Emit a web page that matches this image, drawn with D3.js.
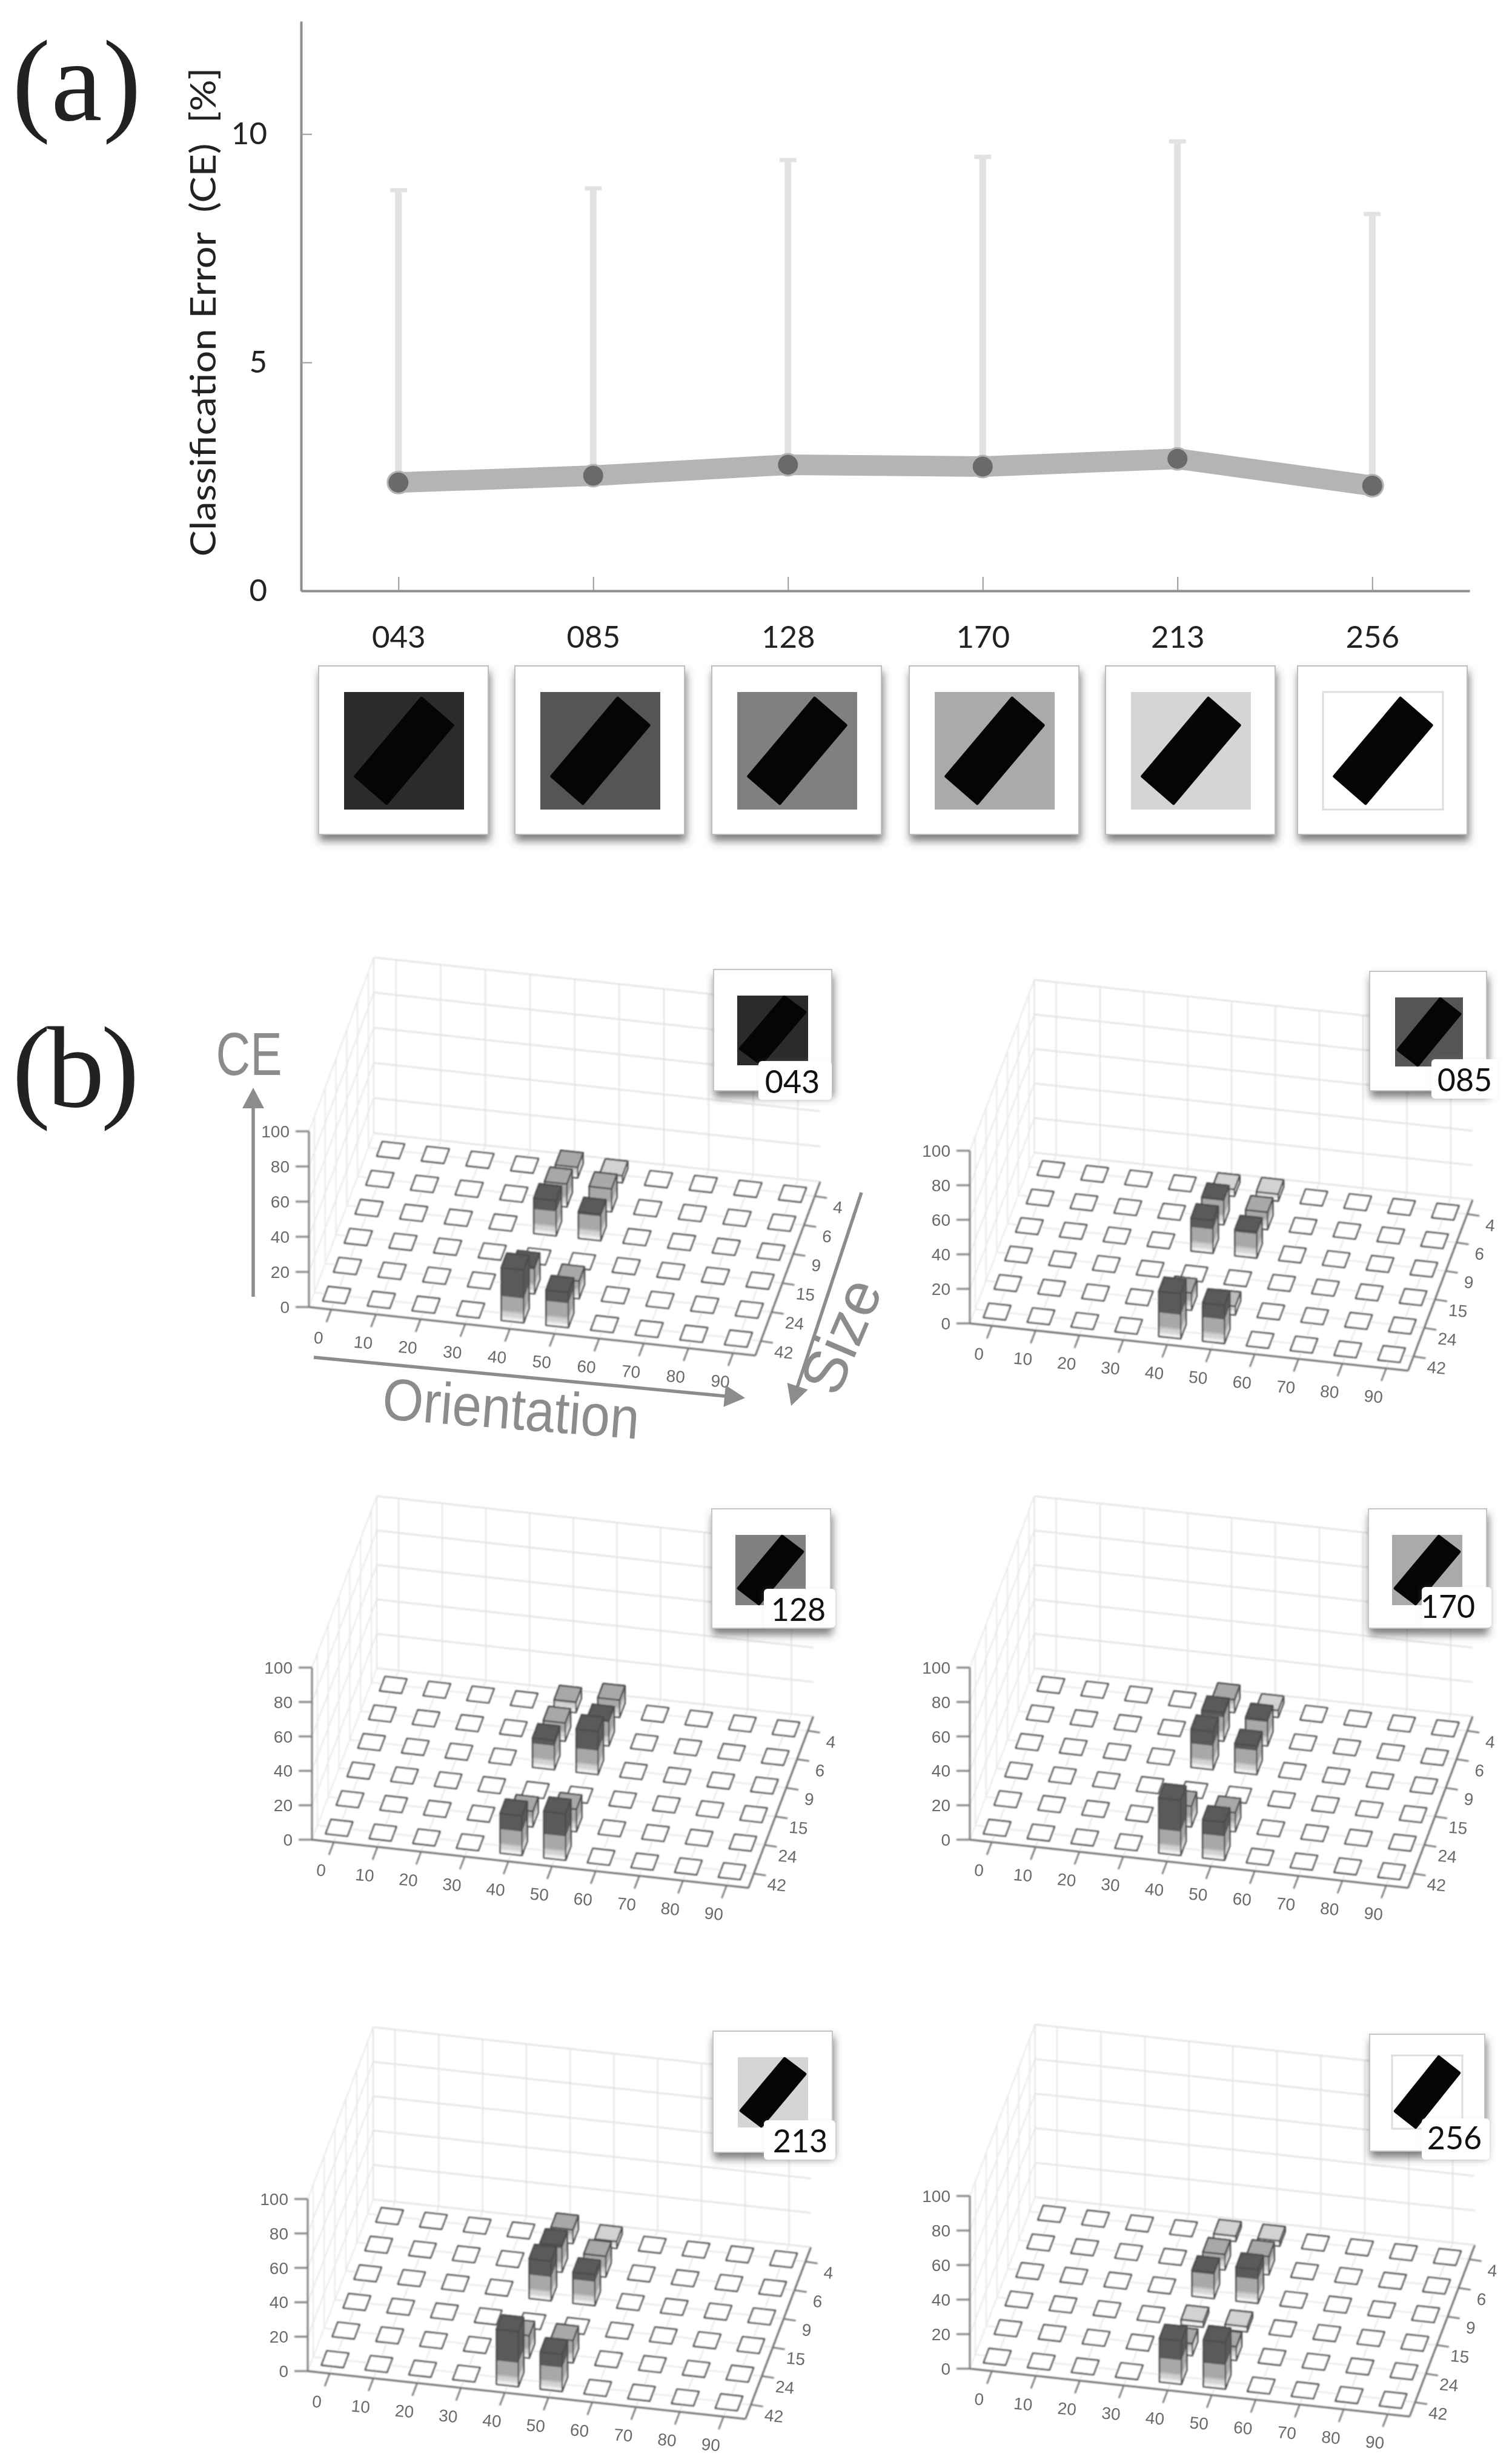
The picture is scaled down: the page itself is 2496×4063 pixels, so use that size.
<!DOCTYPE html>
<html>
<head>
<meta charset="utf-8">
<script src="https://cdn.jsdelivr.net/npm/d3@7"></script>
<style>
  html, body { margin: 0; background: #fff; }
  svg { display: block; }
  text { font-family: "Lato", sans-serif; opacity: 0.995; }
</style>
</head>
<body>
<script>
"use strict";

const W = 2496;
const H = 4063;

// (a) line chart
const levels = ["043", "085", "128", "170", "213", "256"];
const ceMean = [2.37, 2.52, 2.76, 2.72, 2.89, 2.3];
const ceUpper = [8.77, 8.81, 9.43, 9.5, 9.84, 8.25];
const yTicks = [0, 5, 10];

// (b) bar grids, rows run from size 4 (back) to size 42 (front)
const orientations = [0, 10, 20, 30, 40, 50, 60, 70, 80, 90];
const sizes = [4, 6, 9, 15, 24, 42];
const ceTicks = [0, 20, 40, 60, 80, 100];

const ce043 = [
  [0, 0, 0, 0, 6, 4, 0, 0, 0, 0],
  [0, 0, 0, 0, 13, 13, 0, 0, 0, 0],
  [0, 0, 0, 0, 20, 15, 0, 0, 0, 0],
  [0, 0, 0, 0, 0, 0, 0, 0, 0, 0],
  [0, 0, 0, 0, 15, 10, 0, 0, 0, 0],
  [0, 0, 0, 0, 30, 20, 0, 0, 0, 0],
];
const ce085 = [
  [0, 0, 0, 0, 4, 4, 0, 0, 0, 0],
  [0, 0, 0, 0, 14.5, 10, 0, 0, 0, 0],
  [0, 0, 0, 0, 19, 15, 0, 0, 0, 0],
  [0, 0, 0, 0, 0, 0, 0, 0, 0, 0],
  [0, 0, 0, 0, 10, 5, 0, 0, 0, 0],
  [0, 0, 0, 0, 26, 22, 0, 0, 0, 0],
];
const ce128 = [
  [0, 0, 0, 0, 6, 10, 0, 0, 0, 0],
  [0, 0, 0, 0, 10.5, 14.5, 0, 0, 0, 0],
  [0, 0, 0, 0, 17, 25, 0, 0, 0, 0],
  [0, 0, 0, 0, 0, 0, 0, 0, 0, 0],
  [0, 0, 0, 0, 9, 13, 0, 0, 0, 0],
  [0, 0, 0, 0, 23, 27, 0, 0, 0, 0],
];
const ce170 = [
  [0, 0, 0, 0, 7.5, 4, 0, 0, 0, 0],
  [0, 0, 0, 0, 16.5, 15, 0, 0, 0, 0],
  [0, 0, 0, 0, 22, 16.5, 0, 0, 0, 0],
  [0, 0, 0, 0, 0, 0, 0, 0, 0, 0],
  [0, 0, 0, 0, 12, 11, 0, 0, 0, 0],
  [0, 0, 0, 0, 32, 22, 0, 0, 0, 0],
];
const ce213 = [
  [0, 0, 0, 0, 8, 4, 0, 0, 0, 0],
  [0, 0, 0, 0, 15.5, 12, 0, 0, 0, 0],
  [0, 0, 0, 0, 23, 18, 0, 0, 0, 0],
  [0, 0, 0, 0, 0, 0, 0, 0, 0, 0],
  [0, 0, 0, 0, 13, 13, 0, 0, 0, 0],
  [0, 0, 0, 0, 32, 21.5, 0, 0, 0, 0],
];
const ce256 = [
  [0, 0, 0, 0, 3, 3, 0, 0, 0, 0],
  [0, 0, 0, 0, 9, 10.5, 0, 0, 0, 0],
  [0, 0, 0, 0, 15, 19.5, 0, 0, 0, 0],
  [0, 0, 0, 0, 3, 3, 0, 0, 0, 0],
  [0, 0, 0, 0, 7, 8, 0, 0, 0, 0],
  [0, 0, 0, 0, 25, 27, 0, 0, 0, 0],
];

// where each 3d box sits on the page: origin, orientation edge, size edge, height of 100
const panels = [
  { level: "043", grid: ce043, o: [510, 2157], ex: [737, 80], ey: [107, -287], h: 290,
    card: [1178, 1600, 195, 200], inner: [1217, 1643, 117, 115], tag: [1252, 1751, 121, 64], label: [1308, 1785] },
  { level: "085", grid: ce085, o: [1601, 2184], ex: [723.5, 78], ey: [106.5, -282], h: 285,
    card: [2261, 1603, 193, 197], inner: [2303, 1646, 112, 114], tag: [2363, 1748, 109, 65], label: [2418, 1782] },
  { level: "128", grid: ce128, o: [515, 3036], ex: [720.5, 79.6], ey: [107, -283], h: 284,
    card: [1175, 2490, 196, 197], inner: [1214, 2533, 116, 116], tag: [1261, 2622, 118, 64], label: [1318, 2656] },
  { level: "170", grid: ce170, o: [1601, 3036], ex: [723.5, 79.6], ey: [106.5, -283], h: 284,
    card: [2259, 2490, 195, 197], inner: [2298, 2533, 116, 116], tag: [2347, 2619, 115, 67], label: [2390, 2651] },
  { level: "213", grid: ce213, o: [508, 3913], ex: [722.6, 79], ey: [108, -283.4], h: 284,
    card: [1177, 3352, 197, 200], inner: [1218, 3395, 116, 116], tag: [1261, 3499, 118, 65], label: [1321, 3533] },
  { level: "256", grid: ce256, o: [1601, 3909], ex: [726, 79], ey: [107.6, -283], h: 285,
    card: [2261, 3357, 190, 193], inner: [2298, 3392, 116, 121], tag: [2347, 3496, 112, 68], label: [2401, 3528] },
];

const cardsA = [526, 850, 1175, 1501, 1825, 2142];

const svg = d3.select("body").append("svg").attr("width", W).attr("height", H);

const defs = svg.append("defs");
defs.append("filter").attr("id", "soft").append("feGaussianBlur").attr("stdDeviation", 0.9);
const shadow = defs.append("filter").attr("id", "shadow")
  .attr("x", "-15%").attr("y", "-15%").attr("width", "130%").attr("height", "135%");
shadow.append("feDropShadow").attr("dx", 2).attr("dy", 10).attr("stdDeviation", 7)
  .attr("flood-color", "#444").attr("flood-opacity", 0.7);
const tagShadow = defs.append("filter").attr("id", "tagShadow")
  .attr("x", "-15%").attr("y", "-15%").attr("width", "130%").attr("height", "130%");
tagShadow.append("feDropShadow").attr("dx", 0).attr("dy", 1).attr("stdDeviation", 4)
  .attr("flood-color", "#ccc").attr("flood-opacity", 0.25);

// panel letters
function panelLetter(txt, x, y, len) {
  svg.append("text").attr("x", x).attr("y", y)
    .attr("textLength", len).attr("lengthAdjust", "spacing")
    .style("font-family", '"Liberation Serif", serif')
    .style("font-size", "190px").attr("fill", "#222").text(txt);
}
panelLetter("(a)", 20, 198, 213);
panelLetter("(b)", 20, 1826, 210);

/* ---------- (a) ---------- */
const xA = d3.scalePoint().domain(levels).range([497, 2426]).padding(0.5);
const yA = d3.scaleLinear().domain([0, 12.47]).range([975, 35]);

const axisY = svg.append("g").attr("transform", "translate(497,0)")
  .call(d3.axisLeft(yA).tickValues(yTicks).tickSize(-18).tickSizeOuter(0).tickPadding(56));
const axisX = svg.append("g").attr("transform", "translate(0,975)")
  .call(d3.axisBottom(xA).tickSize(-23).tickSizeOuter(0).tickPadding(58));
[axisY, axisX].forEach((g) => {
  g.select(".domain").attr("stroke", "#8e8e8e").attr("stroke-width", 4);
  g.selectAll(".tick line").attr("stroke", "#999").attr("stroke-width", 2);
  g.selectAll("text").style("font-size", "51px").style("font-family", '"Lato", sans-serif').attr("fill", "#222");
});

svg.append("text")
  .attr("transform", "translate(356,515) rotate(-90)")
  .attr("text-anchor", "middle")
  .attr("textLength", 807).attr("lengthAdjust", "spacingAndGlyphs")
  .style("font-size", "58px").style("white-space", "pre").attr("fill", "#222")
  .text("Classification Error  (CE)  [%]");

const errs = svg.append("g").attr("stroke", "#e2e2e2");
errs.selectAll("line.stem").data(levels).join("line").attr("class", "stem")
  .attr("x1", (d) => xA(d)).attr("x2", (d) => xA(d))
  .attr("y1", (d, i) => yA(ceMean[i])).attr("y2", (d, i) => yA(ceUpper[i]))
  .attr("stroke-width", 11);
errs.selectAll("line.cap").data(levels).join("line").attr("class", "cap")
  .attr("x1", (d) => xA(d) - 14).attr("x2", (d) => xA(d) + 14)
  .attr("y1", (d, i) => yA(ceUpper[i])).attr("y2", (d, i) => yA(ceUpper[i]))
  .attr("stroke-width", 7);

const lineA = d3.line().x((d) => xA(d)).y((d, i) => yA(ceMean[i]));
svg.append("path").attr("d", lineA(levels)).attr("fill", "none")
  .attr("stroke", "#b4b4b4").attr("stroke-width", 34).attr("stroke-linejoin", "round");
svg.selectAll("circle.pt").data(levels).join("circle").attr("class", "pt")
  .attr("cx", (d) => xA(d)).attr("cy", (d, i) => yA(ceMean[i])).attr("r", 18)
  .attr("fill", "#6a6a6a").attr("stroke", "#b4b4b4").attr("stroke-width", 3);

// grey level of the stimulus background follows its label
function stimulus(parent, level, box, long, short) {
  const [x, y, w, h] = box;
  const grey = Math.min(255, +level);
  const bg = d3.rgb(grey, grey, grey).formatHex();
  parent.append("rect").attr("x", x).attr("y", y).attr("width", w).attr("height", h)
    .attr("fill", bg).attr("stroke", level === "256" ? "#ddd" : "none").attr("stroke-width", 3);
  const cx = x + w / 2;
  const cy = y + h / 2;
  const lx = (long[0] * w) / 2;
  const ly = (long[1] * h) / 2;
  const sx = (short[0] * w) / 2;
  const sy = (short[1] * h) / 2;
  const corners = [[cx + lx - sx, cy + ly - sy], [cx + lx + sx, cy + ly + sy], [cx - lx + sx, cy - ly + sy], [cx - lx - sx, cy - ly - sy]];
  parent.append("path").attr("d", d3.line()(corners) + "Z")
    .attr("fill", "#050505").attr("stroke", "#050505").attr("stroke-width", 5).attr("stroke-linejoin", "round");
}

const cardY = 1099;
levels.forEach((lev, i) => {
  const g = svg.append("g");
  g.append("rect").attr("x", cardsA[i]).attr("y", cardY).attr("width", 280).attr("height", 278)
    .attr("fill", "#fff").attr("stroke", "#bdbdbd").attr("stroke-width", 2).attr("filter", "url(#shadow)");
  stimulus(g, lev, [cardsA[i] + 42, cardY + 43, 198, 194], [0.55, -0.665], [0.26, 0.23]);
});

/* ---------- (b) ---------- */
const uScale = d3.scaleLinear().domain([-5, 95]).range([0, 1]);
const vScale = d3.scalePoint().domain(sizes.slice().reverse()).range([0, 1]).padding(0.5);
const zScale = d3.scaleLinear().domain([0, 100]).range([0, 1]);
const halfU = (uScale(10) - uScale(0)) / 4;
const halfV = vScale.step() / 4;

// colours of the bar faces go by height
const faceColour = d3.scaleThreshold()
  .domain([1, 2, 3, 5, 6, 14])
  .range(["#ffffff", "#f1f1f1", "#dedede", "#d2d2d2", "#bcbcbc", "#a8a8a8", "#5a5a5a"]);
const bandEdges = faceColour.domain();

function drawPanel(p) {
  const g = svg.append("g").attr("filter", "url(#soft)");
  const pt = (u, v, z) => [
    p.o[0] + u * p.ex[0] + v * p.ey[0],
    p.o[1] + u * p.ex[1] + v * p.ey[1] - z * p.h,
  ];
  const seg = (parent, a, b, col, sw) =>
    parent.append("line").attr("x1", a[0]).attr("y1", a[1]).attr("x2", b[0]).attr("y2", b[1])
      .attr("stroke", col).attr("stroke-width", sw);

  // walls and floor grid
  const grid = g.append("g");
  ceTicks.forEach((c) => {
    const z = zScale(c);
    seg(grid, pt(0, 1, z), pt(1, 1, z), "#e2e2e2", 2.5);
    seg(grid, pt(0, 0, z), pt(0, 1, z), "#e8e8e8", 2);
  });
  orientations.forEach((d) => {
    const u = uScale(d);
    seg(grid, pt(u, 1, 0), pt(u, 1, 1), "#e2e2e2", 2);
    seg(grid, pt(u, 0, 0), pt(u, 1, 0), "#e6e6e6", 2);
  });
  sizes.forEach((s) => {
    const v = vScale(s);
    seg(grid, pt(0, v, 0), pt(0, v, 1), "#e8e8e8", 2);
    seg(grid, pt(0, v, 0), pt(1, v, 0), "#e6e6e6", 2);
  });
  seg(grid, pt(0, 1, 0), pt(0, 1, 1), "#e2e2e2", 2);

  // box edges, axes
  seg(g, pt(0, 0, 0), pt(0, 0, 1), "#808080", 3);
  seg(g, pt(0, 0, 0), pt(1, 0, 0), "#707070", 3);
  seg(g, pt(1, 0, 0), pt(1, 1, 0), "#707070", 3);

  const tickTxt = { fill: "#6a6a6a", size: "28px" };
  ceTicks.forEach((c) => {
    const a = pt(0, 0, zScale(c));
    seg(g, a, [a[0] - 22, a[1]], "#808080", 3);
    svg.append("text").attr("x", a[0] - 32).attr("y", a[1]).attr("dy", "0.36em")
      .attr("text-anchor", "end").attr("fill", tickTxt.fill)
      .style("font-family", '"Liberation Sans", sans-serif').style("font-size", tickTxt.size).text(c);
  });
  orientations.forEach((d) => {
    const a = pt(uScale(d), 0, 0);
    seg(g, a, [a[0] - 8, a[1] + 21], "#707070", 2.5);
    const lx = a[0] - 21;
    const ly = a[1] + 46;
    svg.append("text").attr("transform", `translate(${lx},${ly}) rotate(5)`).attr("dy", "0.36em")
      .attr("text-anchor", "middle").attr("fill", tickTxt.fill)
      .style("font-family", '"Liberation Sans", sans-serif').style("font-size", tickTxt.size).text(d);
  });
  sizes.forEach((s) => {
    const a = pt(1, vScale(s), 0);
    seg(g, a, [a[0] + 20, a[1] + 3], "#707070", 2.5);
    const lx = a[0] + 38;
    const ly = a[1] + 18;
    svg.append("text").attr("transform", `translate(${lx},${ly}) rotate(5)`).attr("dy", "0.36em")
      .attr("text-anchor", "middle").attr("fill", tickTxt.fill)
      .style("font-family", '"Liberation Sans", sans-serif').style("font-size", tickTxt.size).text(s);
  });

  // cells and bars, back to front
  const quad = (pts, col, sw) =>
    g.append("path").attr("d", d3.line()(pts) + "Z").attr("fill", col)
      .attr("stroke", sw ? "#4c4c4c" : col).attr("stroke-width", sw ? 2.6 : 0.6).attr("stroke-linejoin", "round");

  sizes.forEach((s, r) => {
    const vc = vScale(s);
    orientations.forEach((d, c) => {
      const val = p.grid[r][c];
      const uc = uScale(d);
      const u0 = uc - halfU;
      const u1 = uc + halfU;
      const v0 = vc - halfV;
      const v1 = vc + halfV;
      const z = zScale(val);
      if (val > 0) {
        // front and right faces, one piece per colour band
        const cuts = [0].concat(bandEdges.filter((e) => e < val), [val]);
        d3.pairs(cuts).forEach(([lo, hi]) => {
          const col = faceColour((lo + hi) / 2);
          const z0 = zScale(lo);
          const z1 = zScale(hi);
          quad([pt(u1, v0, z0), pt(u1, v1, z0), pt(u1, v1, z1), pt(u1, v0, z1)], col);
          quad([pt(u0, v0, z0), pt(u1, v0, z0), pt(u1, v0, z1), pt(u0, v0, z1)], col);
        });
        const outline = [pt(u0, v0, 0), pt(u1, v0, 0), pt(u1, v1, 0), pt(u1, v1, z), pt(u0, v1, z), pt(u0, v0, z)];
        g.append("path").attr("d", d3.line()(outline) + "Z").attr("fill", "none")
          .attr("stroke", "#4c4c4c").attr("stroke-width", 2.6).attr("stroke-linejoin", "round");
        seg(g, pt(u1, v0, 0), pt(u1, v0, z), "#4c4c4c", 2.2);
      }
      quad([pt(u0, v0, z), pt(u1, v0, z), pt(u1, v1, z), pt(u0, v1, z)], val > 0 ? faceColour(val) : "#fff", true);
    });
  });

  // inset
  const inset = svg.append("g");
  const [cx, cy, cw, ch] = p.card;
  inset.append("rect").attr("x", cx).attr("y", cy).attr("width", cw).attr("height", ch)
    .attr("fill", "#fff").attr("stroke", "#c4c4c4").attr("stroke-width", 2).attr("filter", "url(#shadow)");
  stimulus(inset, p.level, p.inner, [0.62, -0.74], [0.29, 0.22]);
  const [tx, ty, tw, th] = p.tag;
  inset.append("rect").attr("x", tx).attr("y", ty).attr("width", tw).attr("height", th).attr("rx", 6)
    .attr("fill", "#fff").attr("filter", "url(#tagShadow)");
  inset.append("text").attr("x", p.label[0]).attr("y", p.label[1]).attr("dy", "0.36em")
    .attr("text-anchor", "middle").attr("fill", "#111").style("font-size", "52px").text(p.level);
}
panels.forEach(drawPanel);

// axis names on the first box
const arrowCol = "#8c8c8c";
function arrow(from, to) {
  const len = Math.hypot(to[0] - from[0], to[1] - from[1]);
  const ang = (Math.atan2(to[1] - from[1], to[0] - from[0]) * 180) / Math.PI;
  const g = svg.append("g").attr("transform", `translate(${from[0]},${from[1]}) rotate(${ang})`);
  g.append("line").attr("x2", len - 30).attr("stroke", arrowCol).attr("stroke-width", 5.5);
  g.append("path").attr("d", d3.line()([[len - 34, -18], [len, 0], [len - 34, 18]]) + "Z").attr("fill", arrowCol);
}
arrow([418, 2140], [418, 1795]);
arrow([518, 2240], [1230, 2307]);
arrow([1422, 1968], [1306, 2320]);

const nameFont = '"Liberation Sans", sans-serif';
svg.append("text").attr("x", 411).attr("y", 1774).attr("text-anchor", "middle")
  .attr("textLength", 109).attr("lengthAdjust", "spacingAndGlyphs")
  .style("font-family", nameFont).style("font-size", "100px").attr("fill", arrowCol).text("CE");
svg.append("text").attr("transform", "translate(841,2358) rotate(4.5)").attr("text-anchor", "middle")
  .attr("textLength", 425).attr("lengthAdjust", "spacingAndGlyphs")
  .style("font-family", nameFont).style("font-size", "97px").attr("fill", arrowCol).text("Orientation");
svg.append("text").attr("transform", "translate(1420,2218) rotate(-67)").attr("text-anchor", "middle")
  .attr("textLength", 195).attr("lengthAdjust", "spacingAndGlyphs")
  .style("font-family", nameFont).style("font-size", "100px").attr("fill", arrowCol).text("Size");
</script>
</body>
</html>
